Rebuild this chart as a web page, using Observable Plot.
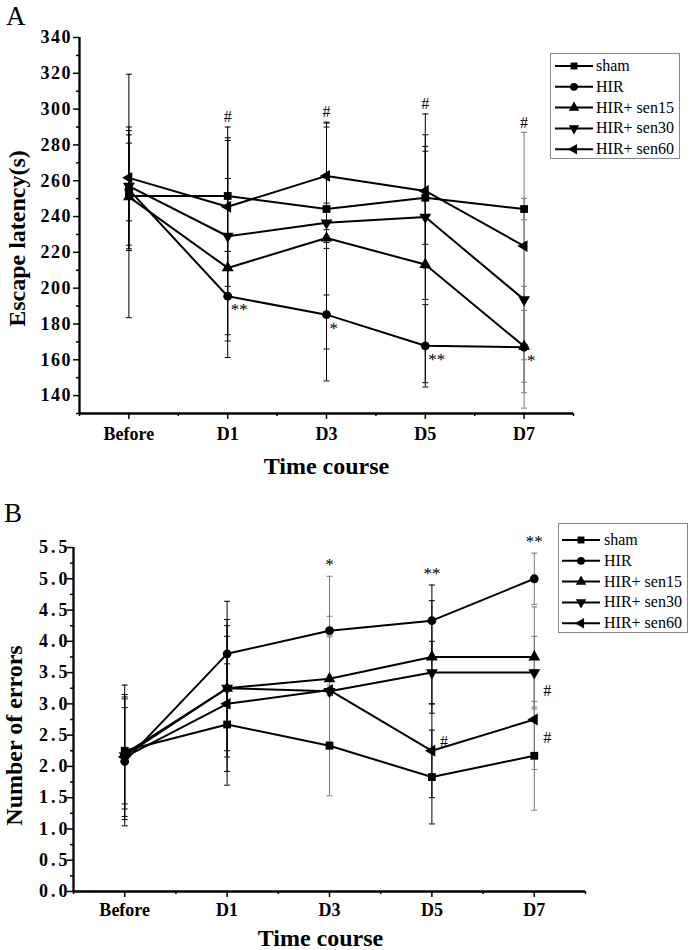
<!DOCTYPE html>
<html><head><meta charset="utf-8">
<script src="https://cdn.jsdelivr.net/npm/d3@7"></script>
<script src="https://cdn.jsdelivr.net/npm/@observablehq/plot@0.6"></script>
<style>
body{margin:0;background:#fff;}
#wrap{position:relative;width:692px;height:950px;overflow:hidden;color:#000;}
.panel{position:absolute;left:0;}
#overlay{position:absolute;left:0;top:0;pointer-events:none;}
</style></head><body><div id="wrap"></div>
<script>
// ---------- data ----------
const times = ["Before", "D1", "D3", "D5", "D7"];
const groups = ["sham", "HIR", "HIR+ sen15", "HIR+ sen30", "HIR+ sen60"];

// Panel A: escape latency (s), mean and SD
const latSham = [251.5, 251.5, 244.2, 250.5, 244.2];
const latShamSD = [68, 31, 48, 26, 6];
const latHIR = [255, 195.5, 185.2, 167.8, 167];
const latHIRSD = [33, 25, 37, 23, 34];
const latSen15 = [251, 211.3, 228, 213.2, 167.5];
const latSen15SD = [30, 50, 62, 66, 20];
const latSen30 = [257, 229, 236.5, 239.7, 193.6];
const latSen30SD = [33, 55, 11, 46, 52];
const latSen60 = [261.6, 245.5, 262.7, 254.3, 223.5];
const latSen60SD = [24, 44.5, 30, 43, 63.5];

// Panel B: number of errors, mean and SD
const errSham = [2.25, 2.67, 2.33, 1.83, 2.17];
const errShamSD = [1.05, 0.97, 0.8, 0.75, 0.87];
const errHIR = [2.08, 3.8, 4.17, 4.33, 5.0];
const errHIRSD = [1.03, 0.84, 0.87, 0.57, 0.41];
const errSen15 = [2.2, 3.25, 3.4, 3.75, 3.75];
const errSen15SD = [0.88, 1.1, 1.0, 0.9, 0.8];
const errSen30 = [2.17, 3.25, 3.2, 3.5, 3.5];
const errSen30SD = [0.77, 1.0, 0.9, 0.5, 0.58];
const errSen60 = [2.15, 3.0, 3.22, 2.25, 2.75];
const errSen60SD = [1.0, 1.08, 0.85, 0.75, 0.8];

// tick values
const ticksA = [140, 160, 180, 200, 220, 240, 260, 280, 300, 320, 340];
const minorTicksA = [130, 150, 170, 190, 210, 230, 250, 270, 290, 310, 330];
const ticksB = [0, 0.5, 1, 1.5, 2, 2.5, 3, 3.5, 4, 4.5, 5, 5.5];
const minorTicksB = [0.25, 0.75, 1.25, 1.75, 2.25, 2.75, 3.25, 3.75, 4.25, 4.75, 5.25];

// significance marks
const hashA = ["D1", "D3", "D5", "D7"];                       // "#" above the bars
const starsA = [["D1", "**"], ["D3", "*"], ["D5", "**"], ["D7", "*"]]; // beside HIR
const starsB = [["D3", "*"], ["D5", "**"], ["D7", "**"]];      // above the bars
const hashB = [["D5", "HIR+ sen60", "above"], ["D7", "HIR+ sen60", "below"], ["D7", "HIR+ sen30", "below"]];

// ---------- helpers ----------
const serif = "'Liberation Serif', 'Times New Roman', serif";
function build(means, sds) {
  const rows = [];
  groups.forEach((g, gi) => times.forEach((t, ti) => rows.push({g, t, i: ti, m: means[gi][ti], sd: sds[gi][ti]})));
  return rows;
}
function tri(dir) {
  return {draw(ctx, size) {
    const s = Math.sqrt(size * 4 / Math.sqrt(3)), h = s * Math.sqrt(3) / 2, a = 2 * h / 3, b = h / 3;
    if (dir === "down") { ctx.moveTo(0, a); ctx.lineTo(s / 2, -b); ctx.lineTo(-s / 2, -b); }
    else { ctx.moveTo(-a, 0); ctx.lineTo(b, s / 2); ctx.lineTo(b, -s / 2); }
    ctx.closePath();
  }};
}
const symbols = [d3.symbolSquare, d3.symbolCircle, d3.symbolTriangle, tri("down"), tri("left")];
const capSym = {draw(ctx) { ctx.moveTo(-3, 0); ctx.lineTo(3, 0); }};

function panel(o) {
  const rows = o.rows;
  const caps = rows.flatMap(d => [{i: d.i, t: d.t, v: d.m - d.sd}, {i: d.i, t: d.t, v: d.m + d.sd}]);
  const barColor = d => o.gray.includes(d.t) ? "#7a7a7a" : "#000";
  const marks = [
    Plot.ruleX(rows, {x: "i", y1: d => d.m - d.sd, y2: d => d.m + d.sd, stroke: barColor, strokeWidth: 1}),
    Plot.dot(caps, {x: "i", y: "v", symbol: capSym, stroke: barColor, fill: "none", strokeWidth: 1}),
    Plot.line(rows, {x: "i", y: "m", z: "g", stroke: "#000", strokeWidth: 2}),
    ...groups.map((g, gi) => Plot.dot(rows.filter(d => d.g === g), {x: "i", y: "m", symbol: symbols[gi], fill: "#000", stroke: "none", r: 4.4})),
    Plot.axisY(o.minor, {tickSize: 3, tickFormat: () => "", label: null, strokeWidth: 1.5}),
    Plot.axisY(o.major, {tickSize: 6, tickPadding: o.yPad, tickFormat: o.fmt, label: null, strokeWidth: 1.5,
      fontSize: 18, fontWeight: "bold", fontFamily: serif}),
    Plot.axisX([-0.5, 0.5, 1.5, 2.5, 3.5, 4.5], {tickSize: 3, tickFormat: () => "", label: null, strokeWidth: 1.5}),
    Plot.axisX([0, 1, 2, 3, 4], {tickSize: 6, tickPadding: o.xPad, tickFormat: i => times[i], label: null, strokeWidth: 1.5,
      fontSize: 18, fontWeight: "bold", fontFamily: serif}),
    Plot.ruleX([-0.5], {strokeWidth: 2.3}),
    Plot.ruleY([o.yDomain[0]], {strokeWidth: 2.3}),
    Plot.text([o.yLabel], {text: d => d, frameAnchor: "left", textAnchor: "middle", dx: o.yLabelDx, dy: o.yLabelDy, rotate: -90,
      fontSize: 24, fontWeight: "bold", fontFamily: serif}),
    Plot.text(["Time course"], {text: d => d, frameAnchor: "bottom", dx: o.xLabelDx, dy: o.xLabelDy,
      fontSize: 24, fontWeight: "bold", fontFamily: serif}),
    ...o.extra(rows)
  ];
  const svg = Plot.plot({
    width: 692, height: o.height,
    marginLeft: o.m[0], marginRight: o.m[1], marginTop: o.m[2], marginBottom: o.m[3],
    x: {type: "linear", domain: [-0.5, 4.5]},
    y: {type: "linear", domain: o.yDomain},
    style: {fontFamily: serif, color: "#000", background: "transparent", overflow: "visible"},
    marks
  });
  d3.select(svg).selectAll('g[aria-label="y-axis tick label"] text').attr("letter-spacing", o.ls);
  return svg;
}
const topOf = (rows, t) => d3.max(rows.filter(d => d.t === t), d => d.m + d.sd);
const at = (rows, t, g) => rows.find(d => d.t === t && d.g === g);

// ---------- panel A ----------
const rowsA = build([latSham, latHIR, latSen15, latSen30, latSen60], [latShamSD, latHIRSD, latSen15SD, latSen30SD, latSen60SD]);
const plotA = panel({
  rows: rowsA, yDomain: [130, 340], major: ticksA, minor: minorTicksA, fmt: d3.format("d"), yPad: 1.5, ls: 1.5, xPad: 8,
  height: 480, m: [79, 119, 37, 67], gray: ["D7"],
  yLabel: "Escape latency(s)", yLabelDx: -62, yLabelDy: 13, xLabelDx: 0, xLabelDy: 60,
  extra: rows => [
    Plot.text(hashA.map(t => ({i: times.indexOf(t), v: topOf(rows, t)})), {x: "i", y: "v", text: () => "#", dy: -10, fontSize: 16, fontFamily: serif}),
    Plot.text(starsA.map(([t, s]) => ({i: times.indexOf(t), v: at(rows, t, "HIR").m, s})), {x: "i", y: "v", text: "s", dx: 3, dy: 7, textAnchor: "start", lineAnchor: "top", fontSize: 17, fontFamily: serif})
  ]
});

// ---------- panel B ----------
const rowsB = build([errSham, errHIR, errSen15, errSen30, errSen60], [errShamSD, errHIRSD, errSen15SD, errSen30SD, errSen60SD]);
const plotB = panel({
  rows: rowsB, yDomain: [0, 5.5], major: ticksB, minor: minorTicksB, fmt: d3.format(".1f"), yPad: -3, ls: 3, xPad: 6,
  height: 470, m: [73, 107, 67, 59], gray: ["D3", "D7"],
  yLabel: "Number of errors", yLabelDx: -59, yLabelDy: 16, xLabelDx: -9, xLabelDy: 54,
  extra: rows => [
    Plot.text(starsB.map(([t, s]) => ({i: times.indexOf(t), v: topOf(rows, t), s})), {x: "i", y: "v", text: "s", dy: -6, lineAnchor: "bottom", fontSize: 17, fontFamily: serif}),
    Plot.text(hashB.map(([t, g, w]) => ({i: times.indexOf(t), v: at(rows, t, g).m, w})), {x: "i", y: "v", text: () => "#",
      textAnchor: "start", fontSize: 16, fontFamily: serif}),
  ]
});

const wrap = document.getElementById("wrap");
plotA.classList.add("panel"); plotA.style.top = "0px";
plotB.classList.add("panel"); plotB.style.top = "480px";
wrap.append(plotA, plotB);

// position "#" marks of panel B relative to their point
d3.select(plotB).selectAll("text").filter(function() { return this.textContent === "#"; }).each(function(_, k) {
  const w = hashB[k][2];
  d3.select(this).attr("dx", w === "above" ? 8 : 9).attr("dy", w === "above" ? -9 : 18);
});

// ---------- overlay: panel letters and legends ----------
const ov = d3.select(wrap).append("svg").attr("id", "overlay").attr("width", 692).attr("height", 950)
  .style("font-family", serif);
ov.append("text").attr("x", 6).attr("y", 25).attr("font-size", 27).text("A");
ov.append("text").attr("x", 4).attr("y", 522).attr("font-size", 27).text("B");

function legend(x, y, w, h, rowY0, rowStep, lx0, lx1, tx) {
  const g = ov.append("g");
  g.append("rect").attr("x", x).attr("y", y).attr("width", w).attr("height", h)
    .attr("fill", "#fff").attr("stroke", "#888").attr("stroke-width", 1);
  groups.forEach((name, gi) => {
    const yy = rowY0 + gi * rowStep;
    g.append("line").attr("x1", lx0).attr("x2", lx1).attr("y1", yy).attr("y2", yy).attr("stroke", "#000").attr("stroke-width", 2);
    g.append("path").attr("transform", `translate(${(lx0 + lx1) / 2},${yy})`)
      .attr("d", d3.symbol(symbols[gi], 48)()).attr("fill", "#000");
    g.append("text").attr("x", tx).attr("y", yy + 5).attr("font-size", 16).text(name);
  });
}
legend(550.5, 53.5, 129, 105, 66, 20.8, 555, 593, 596);
legend(558.5, 523.5, 129, 109, 540, 20.8, 562, 600, 604);
</script></body></html>
